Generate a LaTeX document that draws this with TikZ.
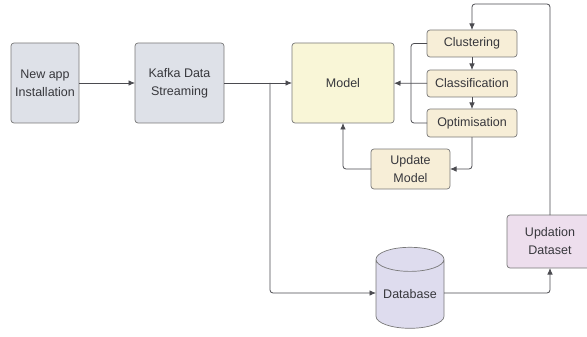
\documentclass[tikz,border=0pt]{standalone}
\usepackage{fontspec}
\setmainfont{Liberation Sans}
\usetikzlibrary{arrows.meta,shapes.geometric}

\definecolor{boxgray}{RGB}{222,225,232}
\definecolor{modelyellow}{RGB}{249,246,215}
\definecolor{stepbeige}{RGB}{247,238,215}
\definecolor{dblav}{RGB}{222,220,238}
\definecolor{dspink}{RGB}{237,222,237}
\definecolor{edgegray}{RGB}{120,120,120}
\definecolor{linegray}{RGB}{75,75,80}
\definecolor{textgray}{RGB}{55,55,60}

\begin{document}
\begin{tikzpicture}[x=1pt,y=-1pt,
  every node/.style={font=\fontsize{12.5}{18}\selectfont, text=textgray, align=center, inner sep=0pt, outer sep=0pt},
  box/.style={draw=edgegray, line width=0.7pt, rounded corners=3pt},
  link/.style={draw=linegray, line width=0.8pt, rounded corners=3pt},
  arr/.style={link, -{Latex[length=6.5pt,width=5.5pt]}}]
\useasboundingbox (0,0) rectangle (587,337);

\node[box, fill=boxgray, minimum width=68pt, minimum height=80pt] (app) at (45,83) {New app\\Installation};
\node[box, fill=boxgray, minimum width=89pt, minimum height=80pt] (kafka) at (179.5,83) {Kafka Data\\Streaming};
\node[box, fill=modelyellow, minimum width=102pt, minimum height=80pt] (model) at (343,83) {Model};

\node[box, fill=stepbeige, minimum width=90pt, minimum height=27pt] (clus) at (472,43.5) {Clustering};
\node[box, fill=stepbeige, minimum width=90pt, minimum height=27pt] (clas) at (472,83.5) {Classification};
\node[box, fill=stepbeige, minimum width=90pt, minimum height=28pt] (opt) at (472,123) {Optimisation};
\node[box, fill=stepbeige, minimum width=79pt, minimum height=40pt] (upd) at (410.5,169) {Update\\Model};

\node[box, fill=dblav, cylinder, shape border rotate=90, aspect=0.45, minimum width=68pt, minimum height=81pt, rounded corners=0pt] (db) at (410,294) {\raisebox{-8pt}{Database}};
\node[box, fill=dspink, minimum width=86pt, minimum height=53pt] (ds) at (550,241.5) {Updation\\Dataset};

% helper points for the bends
\coordinate (split) at (270,83);
\coordinate (bracket) at (411,83.5);
\coordinate (top) at (500,4);

\draw[arr] (app) -- (kafka);
\draw[arr] (kafka) -- (model);
\draw[arr] (split) |- ([yshift=1pt]db.west);
\draw[arr] (clas) -- (model);
\draw[link] (clus.west) -| (bracket) |- (opt.west);
\draw[arr] (clus) -- (clas);
\draw[arr] (clas) -- (opt);
\draw[arr] (opt.south) |- (upd.east);
\draw[arr] (upd.west) -| (model.south);
\draw[arr] ([yshift=1pt]db.east) -| (ds.south);
\draw[arr] (ds.north) |- (top) -| (clus.north);
\end{tikzpicture}
\end{document}
